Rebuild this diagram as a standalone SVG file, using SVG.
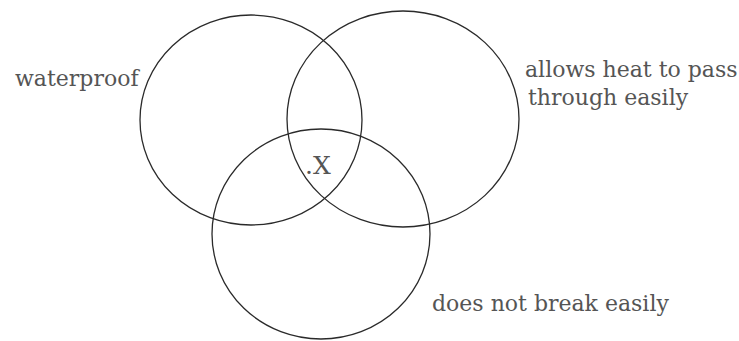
<svg xmlns="http://www.w3.org/2000/svg" width="739" height="341" viewBox="0 0 739 341">
  <style>
    .set { fill: none; stroke: #2a2a2a; stroke-width: 1.3; }
    .lbl { font-family: "DejaVu Serif", "Liberation Serif", serif; font-size: 22px; fill: #555555; }
  </style>
  <rect width="739" height="341" fill="#ffffff"/>
  <g id="waterproof">
    <ellipse class="set" cx="251" cy="120" rx="111" ry="105"/>
    <text class="lbl" x="15" y="86">waterproof</text>
  </g>
  <g id="heat">
    <ellipse class="set" cx="403" cy="119" rx="116" ry="108"/>
    <text class="lbl" x="525" y="77">allows heat to pass</text>
    <text class="lbl" x="528" y="105">through easily</text>
  </g>
  <g id="break">
    <ellipse class="set" cx="321" cy="234" rx="109" ry="105"/>
    <text class="lbl" x="432" y="311">does not break easily</text>
  </g>
  <g id="x-mark">
    <text class="lbl" x="305" y="174" style="font-size:25px">.X</text>
  </g>
  <g id="connectors"/>
</svg>
